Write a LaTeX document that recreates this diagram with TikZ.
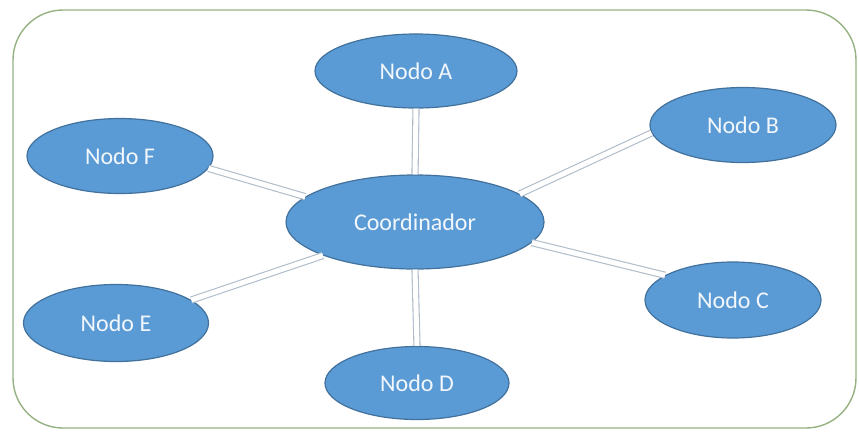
\documentclass[tikz,border=0pt]{standalone}
\usepackage{fontspec}
\setmainfont{Carlito}
\usetikzlibrary{shapes.geometric}
\definecolor{nodefill}{HTML}{5B9BD5}
\definecolor{nodeedge}{HTML}{41719C}
\definecolor{nodetext}{HTML}{F2F7FC}
\definecolor{linkcol}{RGB}{175,188,202}
\definecolor{framecol}{RGB}{150,178,130}
\tikzset{
  net/.style={ellipse, draw=nodeedge, line width=1.2pt, fill=nodefill,
    inner sep=0pt, text=nodetext, font=\fontsize{24}{28}\selectfont},
  link/.style={draw=linkcol, line width=1.1pt, double=white, double distance=5pt}
}
\begin{document}
\begin{tikzpicture}[x=1pt, y=-1pt]
  \useasboundingbox (0,0) rectangle (859,432);
  % outer frame
  \draw[framecol, line width=1.4pt, fill=white, rounded corners=50pt]
    (13,10) rectangle (856,428);

  % nodes
  \node[net, minimum width=258pt, minimum height=94pt] (coord) at (415,222) {Coordinador};
  \node[net, minimum width=202pt, minimum height=74pt] (A) at (416,71) {Nodo A};
  \node[net, minimum width=186pt, minimum height=75pt] (B) at (743,125) {Nodo B};
  \node[net, minimum width=176pt, minimum height=76pt] (C) at (733,300) {Nodo C};
  \node[net, minimum width=184pt, minimum height=73pt] (D) at (417,383) {Nodo D};
  \node[net, minimum width=185pt, minimum height=77pt] (E) at (116,323) {Nodo E};
  \node[net, minimum width=186pt, minimum height=75pt] (F) at (120,156) {Nodo F};

  % double links to the coordinator
  \path[link] (A.south) -- (coord.north);
  \path[link] (coord.15) -- (B.185);
  \path[link] (coord.-10) -- (C.160);
  \path[link] (coord.south) -- (D.north);
  \path[link] (coord.200) -- (E.17);
  \path[link] (F.-8) -- (coord.167);
\end{tikzpicture}
\end{document}
